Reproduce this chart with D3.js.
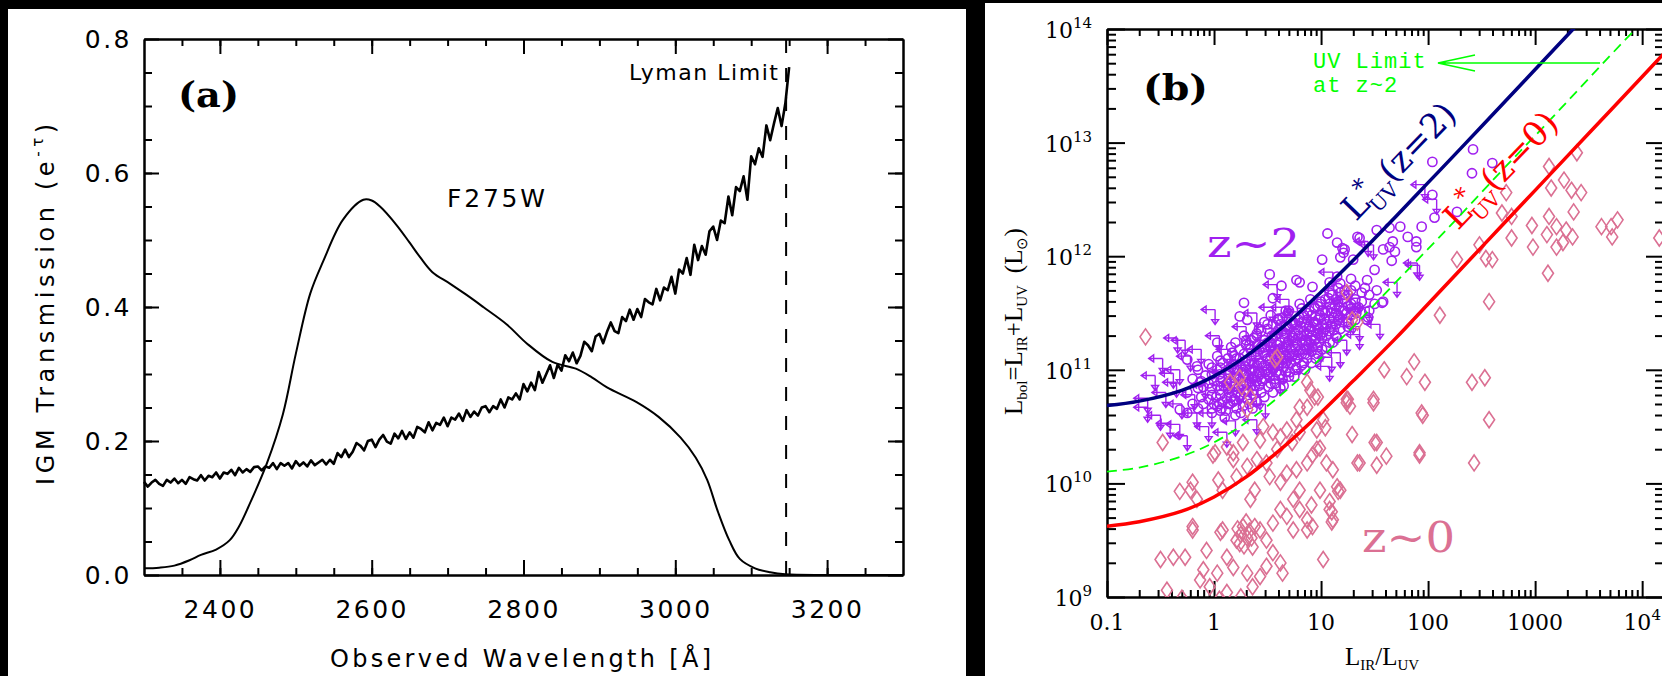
<!DOCTYPE html>
<html>
<head>
<meta charset="utf-8">
<script src="https://cdn.jsdelivr.net/npm/d3@7"></script>
<style>
html, body { margin: 0; padding: 0; background: #000; }
svg { display: block; }
</style>
</head>
<body>
<svg id="chart" width="1662" height="676"></svg>
<script>
// ---------- panel (a): IGM transmission vs F275W ----------
const filterWave = [2300, 2320, 2340, 2360, 2375, 2395, 2413, 2425, 2440, 2462, 2483, 2500, 2519, 2536, 2562, 2589, 2600, 2611, 2633, 2650, 2664, 2680, 2703, 2725, 2747, 2778, 2804, 2838, 2869, 2890, 2910, 2949, 2978, 3007, 3027, 3042, 3056, 3071, 3085, 3105, 3125, 3145, 3200, 3300];
const filterThru = [0.010, 0.011, 0.014, 0.022, 0.030, 0.038, 0.052, 0.072, 0.108, 0.167, 0.240, 0.330, 0.420, 0.468, 0.530, 0.560, 0.559, 0.550, 0.522, 0.496, 0.474, 0.452, 0.435, 0.418, 0.400, 0.374, 0.346, 0.318, 0.308, 0.295, 0.280, 0.258, 0.236, 0.205, 0.175, 0.142, 0.095, 0.052, 0.024, 0.010, 0.004, 0.001, 0.000, 0.000];

// mean IGM transmission, sampled every 5 A from 2300 A
const igmStart = 2300, igmStep = 5;
const igmTrans = [
  0.139, 0.132, 0.138, 0.142, 0.136, 0.133, 0.142, 0.138, 0.144, 0.137,
  0.142, 0.136, 0.146, 0.143, 0.141, 0.149, 0.141, 0.148, 0.146, 0.153,
  0.144, 0.153, 0.151, 0.157, 0.149, 0.160, 0.153, 0.158, 0.154, 0.161,
  0.162, 0.156, 0.162, 0.160, 0.167, 0.158, 0.167, 0.163, 0.167, 0.159,
  0.170, 0.163, 0.168, 0.162, 0.171, 0.164, 0.168, 0.172, 0.165, 0.172,
  0.166, 0.182, 0.176, 0.187, 0.176, 0.184, 0.197, 0.193, 0.186, 0.200,
  0.202, 0.191, 0.202, 0.209, 0.199, 0.196, 0.211, 0.204, 0.215, 0.203,
  0.213, 0.205, 0.221, 0.218, 0.213, 0.228, 0.216, 0.227, 0.224, 0.235,
  0.222, 0.235, 0.232, 0.241, 0.230, 0.246, 0.236, 0.244, 0.238, 0.250,
  0.252, 0.243, 0.252, 0.248, 0.262, 0.250, 0.265, 0.262, 0.271, 0.262,
  0.285, 0.274, 0.287, 0.276, 0.303, 0.287, 0.300, 0.313, 0.294, 0.314,
  0.305, 0.328, 0.319, 0.332, 0.316, 0.327, 0.348, 0.343, 0.334, 0.356,
  0.360, 0.346, 0.363, 0.377, 0.364, 0.361, 0.385, 0.379, 0.396, 0.381,
  0.397, 0.385, 0.412, 0.407, 0.404, 0.427, 0.410, 0.429, 0.425, 0.445,
  0.420, 0.456, 0.450, 0.473, 0.448, 0.493, 0.470, 0.491, 0.478, 0.513,
  0.520, 0.500, 0.529, 0.525, 0.565, 0.537, 0.579, 0.573, 0.595, 0.560,
  0.625, 0.613, 0.637, 0.624, 0.671, 0.649, 0.674, 0.697, 0.670, 0.704,
  0.758
];
const lymanLimit = 3146;
const waveTicks = [2400, 2600, 2800, 3000, 3200];
const transTicks = [0.0, 0.2, 0.4, 0.6, 0.8];

// ---------- panel (b): Lbol vs IR/UV ----------
const modelRatio = [0.1, 0.2, 0.5, 1, 2, 5, 10, 20, 50, 100, 200, 500, 1000, 2000, 5000, 10000, 16000];
const lstarZ2 = [4.84e10, 5.3e10, 6.6e10, 8.8e10, 1.32e11, 2.64e11, 4.84e11, 9.2e11, 2.24e12, 4.44e12, 8.8e12, 2.2e13, 4.4e13, 8.8e13, 2.2e14, 4.4e14, 7.0e14];
const lstarZ0 = [4.2e9, 4.6e9, 5.7e9, 7.6e9, 1.14e10, 2.3e10, 4.2e10, 8.0e10, 1.9e11, 3.8e11, 7.6e11, 1.9e12, 3.8e12, 7.6e12, 1.9e13, 3.8e13, 6.1e13];
const uvLimitZ2 = [1.27e10, 1.38e10, 1.73e10, 2.3e10, 3.45e10, 6.9e10, 1.27e11, 2.4e11, 5.9e11, 1.16e12, 2.3e12, 5.8e12, 1.15e13, 2.3e13, 5.8e13, 1.15e14, 1.84e14];

// z~2 galaxies, [log10(LIR/LUV), log10(Lbol)]
const z2Detect = [
  [1.06,12.20],[1.15,12.12],[1.22,12.06],[1.18,11.99],[1.01,11.97],[1.30,11.97],[1.34,12.17],[1.52,12.23],[1.64,12.25],[1.74,12.26],
  [1.81,12.17],[1.89,12.13],[1.94,12.26],[1.67,12.13],[1.58,12.06],[1.69,12.04],[1.66,11.96],[0.52,11.84],[0.63,11.74],[0.77,11.79],
  [0.80,11.77],[0.55,11.63],[0.28,11.59],[0.92,11.73],[1.08,11.77],[1.15,11.82],[1.43,11.79],[1.52,11.70],[1.41,11.72],[1.57,11.59],
  [1.43,11.44],[1.33,11.50],[1.22,11.66],[0.24,11.47],[0.31,11.44],[0.03,11.24],[-0.25,11.09],[-0.16,11.03],[-0.32,10.65],[-0.13,10.89],
  [2.42,12.94],[2.04,12.83],[2.41,12.73],[2.60,12.82],[2.04,12.54],[2.06,12.34],[2.27,12.39],[1.36,12.16],[1.89,12.08],[1.64,12.08],
  [1.21,12.03],[1.20,12.07],[1.58,11.60],[1.44,11.46],[1.11,11.24],
  [-0.10,10.70],[-0.10,10.85],[-0.08,10.95],[-0.02,10.62],[-0.02,10.78],[0.00,10.90],[-0.02,11.02],
  [0.05,10.70],[0.05,10.82],[0.07,10.66],[0.05,10.96],[0.06,11.08],
  [0.12,10.75],[0.12,10.88],[0.13,11.00],[0.14,10.80],[0.11,10.64],
  [0.18,10.72],[0.18,10.85],[0.19,10.93],[0.18,11.05],[0.20,10.60],[0.17,11.15],
  [0.25,10.78],[0.25,10.90],[0.26,10.98],[0.24,11.10],[0.27,10.68],[0.23,10.84],
  [0.32,10.82],[0.32,10.95],[0.33,11.05],[0.31,10.74],[0.34,11.18],[0.30,10.88],
  [0.38,10.86],[0.38,10.99],[0.39,11.12],[0.37,10.78],[0.40,11.22],[0.36,10.66],
  [0.45,10.90],[0.45,11.02],[0.46,11.15],[0.44,10.80],[0.47,11.26],[0.43,10.96],
  [0.52,10.94],[0.52,11.08],[0.53,11.20],[0.51,10.85],[0.54,11.30],[0.50,11.00],
  [0.58,10.98],[0.58,11.10],[0.59,11.22],[0.57,10.88],[0.60,11.35],[0.56,11.04],
  [0.65,11.02],[0.65,11.15],[0.66,11.28],[0.64,10.92],[0.67,11.38],[0.63,11.10],
  [0.72,11.06],[0.72,11.18],[0.73,11.30],[0.71,10.98],[0.74,11.42],
  [0.78,11.10],[0.78,11.22],[0.79,11.35],[0.77,11.02],[0.80,11.46],
  [0.85,11.14],[0.85,11.26],[0.86,11.38],[0.87,11.50],[0.84,11.06],
  [0.92,11.20],[0.92,11.30],[0.93,11.42],[0.94,11.55],
  [0.98,11.24],[0.98,11.36],[0.99,11.48],[1.00,11.60],
  [1.05,11.30],[1.05,11.40],[1.06,11.52],[1.07,11.63],
  [1.12,11.35],[1.12,11.46],[1.13,11.56],[1.20,11.42],[1.20,11.52],[1.21,11.62],
  [1.28,11.48],[1.28,11.58],[1.35,11.55],
  [0.02,10.76],[0.09,10.86],[0.15,10.70],[0.15,10.97],[0.21,10.80],[0.22,11.00],[0.28,10.86],[0.29,11.03],[0.35,10.92],[0.35,11.08],
  [0.41,10.94],[0.42,11.06],[0.48,10.98],[0.49,11.12],[0.55,11.02],[0.55,11.16],[0.61,11.06],[0.62,11.18],[0.68,11.08],[0.69,11.22],
  [0.75,11.14],[0.76,11.26],[0.81,11.18],[0.82,11.30],[0.88,11.22],[0.89,11.34],[0.95,11.27],[0.96,11.40],[1.02,11.33],[1.03,11.45],
  [1.09,11.38],[1.10,11.50],[1.16,11.44],[1.17,11.55],[1.24,11.50],[1.31,11.52],
  [0.60,11.45],[0.70,11.52],[0.50,11.40],[0.40,11.32],[0.30,11.26],[0.20,11.24],[0.90,11.62],[0.80,11.58],
  [0.00,10.70],[0.10,10.58],[0.25,10.62],[0.40,10.72],[0.55,10.80],[0.65,10.86],[0.75,10.94],[0.85,11.00],[0.95,11.10],[1.05,11.20],
  [1.15,11.28],[1.25,11.38],
  [-0.25,10.62],[-0.25,10.80],[-0.20,10.70],[-0.20,10.92],[-0.15,10.66],[-0.15,10.84],[-0.15,11.00],[-0.05,10.74],[-0.05,10.88],[-0.05,11.05],
  [0.03,10.68],[0.03,10.86],[0.03,11.00],[0.03,11.12],[0.08,10.72],[0.08,10.92],[0.08,11.06],[0.16,10.76],[0.16,10.90],[0.16,11.02],
  [0.16,11.20],[0.21,10.66],[0.21,10.94],[0.21,11.10],[0.28,10.80],[0.28,10.96],[0.28,11.14],[0.28,11.30],[0.33,10.70],[0.33,10.90],
  [0.33,11.00],[0.33,11.22],[0.37,10.82],[0.37,10.94],[0.37,11.06],[0.37,11.28],[0.42,10.86],[0.42,10.98],[0.42,11.18],[0.42,11.36],
  [0.47,10.76],[0.47,10.92],[0.47,11.04],[0.47,11.20],[0.47,11.42],[0.53,10.88],[0.53,10.98],[0.53,11.12],[0.53,11.24],[0.53,11.48],
  [0.57,10.92],[0.57,11.06],[0.57,11.18],[0.57,11.30],[0.62,10.84],[0.62,10.96],[0.62,11.12],[0.62,11.24],[0.62,11.40],[0.67,10.98],
  [0.67,11.06],[0.67,11.20],[0.67,11.32],[0.67,11.52],[0.70,10.94],[0.70,11.12],[0.70,11.26],[0.70,11.36],[0.76,11.00],[0.76,11.08],
  [0.76,11.20],[0.76,11.32],[0.76,11.40],[0.82,11.04],[0.82,11.14],[0.82,11.24],[0.82,11.42],[0.82,11.54],[0.87,11.10],[0.87,11.18],
  [0.87,11.32],[0.87,11.44],[0.91,11.06],[0.91,11.16],[0.91,11.26],[0.91,11.36],[0.91,11.48],[0.97,11.14],[0.97,11.20],[0.97,11.32],
  [0.97,11.44],[0.97,11.56],[1.01,11.18],[1.01,11.28],[1.01,11.40],[1.01,11.52],[1.08,11.24],[1.08,11.34],[1.08,11.44],[1.08,11.58],
  [1.08,11.68],[1.14,11.30],[1.14,11.40],[1.14,11.50],[1.14,11.62],[1.18,11.36],[1.18,11.46],[1.18,11.68],[1.18,11.76],[1.25,11.42],
  [1.25,11.56],[1.25,11.66],[1.32,11.44],[1.32,11.62],[1.32,11.74],[1.38,11.50],[1.38,11.60],[1.38,11.68],[1.45,11.52],[1.45,11.66],
  [1.50,11.58],[1.50,11.88],
  [-0.12,10.76],[-0.12,10.90],[-0.02,10.66],[-0.02,10.84],[-0.02,10.96],[0.06,10.64],[0.06,10.78],[0.06,10.90],[0.06,11.02],[0.13,10.70],
  [0.13,10.84],[0.13,10.96],[0.13,11.10],[0.19,10.74],[0.19,10.88],[0.19,11.00],[0.19,11.12],[0.24,10.76],[0.24,10.92],[0.24,11.04],
  [0.24,11.18],[0.30,10.82],[0.30,10.96],[0.30,11.08],[0.30,11.22],[0.35,10.86],[0.35,11.00],[0.35,11.12],[0.35,11.26],[0.40,10.90],
  [0.40,11.04],[0.40,11.16],[0.40,11.30],[0.44,10.92],[0.44,11.06],[0.44,11.20],[0.44,11.34],[0.50,10.96],[0.50,11.10],[0.50,11.24],
  [0.50,11.36],[0.55,11.00],[0.55,11.14],[0.55,11.28],[0.55,11.40],[0.60,11.04],[0.60,11.18],[0.60,11.32],[0.60,11.44],[0.64,11.06],
  [0.64,11.20],[0.64,11.34],[0.64,11.46],[0.69,11.10],[0.69,11.24],[0.69,11.38],[0.69,11.50],[0.73,11.12],[0.73,11.28],[0.73,11.40],
  [0.79,11.16],[0.79,11.30],[0.79,11.44],[0.84,11.18],[0.84,11.34],[0.84,11.48],[0.89,11.24],[0.89,11.38],[0.89,11.52],[0.94,11.26],
  [0.94,11.42],[0.94,11.54],[0.99,11.30],[0.99,11.46],[0.99,11.58],[1.04,11.36],[1.04,11.50],[1.04,11.62],[1.10,11.40],[1.10,11.54],
  [1.10,11.66],[1.16,11.48],[1.16,11.60],[1.16,11.72],[1.22,11.52],[1.22,11.70],[1.28,11.54],[1.28,11.70],[1.28,11.80]
];
// z~2 upper limits (IR undetected)
const z2Limits = [
  [0.01,11.53],[0.59,11.75],[1.92,11.92],[1.71,11.77],[1.36,11.63],[1.11,11.86],[1.44,12.13],[0.66,11.55],[-0.62,10.75],[-0.27,11.26],
  [-0.32,11.00],[-0.35,10.89],[1.08,11.03],[1.36,11.38],[1.18,11.15],[-0.32,10.52],[-0.41,10.53],[-0.62,10.67],[-0.16,10.62],[-0.02,10.62],
  [0.40,10.56],[-0.34,11.28],[-0.38,10.97],[1.97,12.63],[2.08,12.50],[1.49,12.10],[1.90,11.94],[1.24,11.26],[1.36,11.31],[1.10,11.11],
  [0.15,11.18],[0.34,11.04],[0.52,11.26],[0.71,11.35],[0.80,11.09],[0.24,10.82],[0.43,10.78],[0.62,10.91],[0.90,11.26],[0.99,11.44],
  [-0.08,10.87],[0.10,10.98],[-0.18,10.78],[0.80,11.51],[1.27,11.62],
  [-0.55,10.95],[-0.48,11.10],[-0.45,10.80],[-0.30,10.70],[-0.22,11.12],[-0.12,11.18],[-0.50,10.60],[-0.25,10.42],[0.05,11.30],[0.20,10.55],
  [0.48,10.70],[0.30,11.38],[0.65,11.00],[0.85,11.38],[1.00,11.20],[1.15,11.70],[0.55,11.55],[0.70,11.62],[-0.05,10.50],[0.12,10.45],
  [1.30,11.45],[1.45,11.55],[1.55,11.40],[0.40,11.50]
];
// z~0 galaxies
const z0Local = [
  [3.39,12.91],[3.13,12.79],[3.27,12.67],[3.34,12.58],[3.43,12.56],[3.15,12.60],[2.73,12.56],[2.69,12.38],[2.78,12.35],[3.36,12.39],
  [2.97,12.27],[3.13,12.35],[3.20,12.26],[3.29,12.23],[3.35,12.17],[3.11,12.19],[2.78,12.16],[2.98,12.08],[3.20,12.08],[3.26,12.12],
  [3.62,12.26],[3.71,12.26],[3.77,12.32],[3.72,12.17],[4.16,12.16],[2.48,12.10],[2.54,11.98],[2.27,11.97],[2.60,11.97],[3.12,11.85],
  [2.57,11.60],[2.11,11.48],[1.24,11.68],[1.29,11.44],
  [1.87,11.07],[1.59,11.00],[1.80,10.94],[1.97,10.89],[2.41,10.89],[2.53,10.93],[1.49,10.74],[1.25,10.74],[1.27,10.68],[1.95,10.60],
  [2.57,10.56],[1.04,10.49],[1.29,10.43],[1.52,10.36],[1.61,10.24],[1.34,10.18],[1.52,10.16],[1.92,10.25],[2.43,10.18],[1.11,10.12],
  [1.16,9.93],[0.99,9.94],[1.08,9.84],[1.10,9.75],[1.10,9.66],[0.87,9.59],[1.02,9.33],[0.91,9.81],[0.87,10.18],[0.99,10.31],
  [0.92,10.25],[0.97,10.76],[0.87,10.67],
  [-0.48,10.36],[-0.01,10.25],[-0.32,9.93],[-0.22,9.94],[-0.16,9.86],[0.08,9.94],[0.04,10.03],[-0.20,9.62],[0.06,9.57],[-0.38,9.35],
  [-0.27,9.35],[-0.07,9.41],[-0.10,9.24],[-0.13,9.15],[0.03,9.21],[-0.04,9.09],[-0.44,9.06],[0.12,9.35],[0.18,9.26],[0.24,9.47],
  [0.31,9.52],[0.21,9.50],[0.36,9.44],[0.27,9.62],[0.38,9.62],[0.43,9.59],[0.34,9.86],[0.38,9.94],[0.21,10.06],[0.31,10.15],
  [0.40,10.21],[0.49,10.18],[0.18,10.21],[0.12,10.32],[0.27,10.36],[0.43,10.38],[0.62,10.41],[0.59,10.30],[0.68,10.47],[0.77,10.56],
  [0.80,10.45],[0.73,10.36],[0.52,10.06],[0.62,10.01],[0.68,10.09],[0.77,10.12],[0.96,10.30],[1.05,10.18],[1.15,9.97],[1.18,9.94],
  [0.80,9.94],[0.74,9.86],[0.62,9.77],[0.68,9.71],[0.80,9.77],[0.87,9.68],[0.92,9.62],[1.08,9.77],[1.11,9.68],[0.55,9.65],
  [0.49,9.50],[0.55,9.39],[0.49,9.27],[0.62,9.30],[0.64,9.21],[0.43,9.18],[0.31,9.21],[0.36,9.09],[0.12,9.04],[0.74,9.59],
  [0.55,10.45],[0.46,10.50],[0.01,10.27],[0.96,10.47],[1.02,10.56],[1.24,10.71],[1.50,10.36],[1.36,10.18],[1.94,10.62],[1.92,10.27],
  [1.49,10.71],[0.31,10.65],
  [-0.64,11.29],[-0.20,10.01],[-0.20,9.59],[0.08,9.59],[-0.50,9.33],[0.18,10.27],[0.24,10.93],[0.34,10.76],[0.57,11.09],[0.15,10.89],
  [0.59,11.11],[0.26,10.85],[1.34,11.42],[0.87,10.89],[0.94,10.76],[0.90,10.82],[1.24,10.74],[0.80,10.67],
  [0.05,8.98],[0.25,9.00],[-0.30,8.99],[0.25,9.55],[0.33,9.58],[0.28,9.45],[0.35,9.52],[0.22,9.60],[0.30,9.66]
];
const ratioTicks = [0.1, 1, 10, 100, 1000, 10000];
const ratioLabels = ['0.1', '1', '10', '100', '1000', '10|4'];
const lbolTicks = [1e9, 1e10, 1e11, 1e12, 1e13, 1e14];
const lbolExps = ['9', '10', '11', '12', '13', '14'];

const purple = '#a020f0', pink = '#db7093', navy = '#000080', red = '#ff0000', green = '#00ff00';

const svg = d3.select('#chart');
svg.append('rect').attr('width', 1662).attr('height', 676).attr('fill', '#000');
svg.append('rect').attr('x', 8).attr('y', 9).attr('width', 958).attr('height', 667).attr('fill', '#fff');
svg.append('rect').attr('x', 985).attr('y', 3).attr('width', 677).attr('height', 673).attr('fill', '#fff');

function styleAxis(sel, w) {
    sel.select('.domain').attr('stroke-width', w);
    sel.selectAll('.tick line').attr('stroke-width', w);
}

// ================= panel (a) =================
const xA = d3.scaleLinear().domain([2300, 3300]).range([144, 903]);
const yA = d3.scaleLinear().domain([0, 0.8]).range([575, 39]);
const gA = svg.append('g');
const waveMinor = d3.range(2350, 3300, 50);
const transMinor = d3.range(0.05, 0.8, 0.05);

gA.append('g').attr('transform', 'translate(0,575)')
    .call(d3.axisBottom(xA).tickValues(waveMinor).tickSize(-7).tickSizeOuter(0).tickFormat(''))
    .call(styleAxis, 2);
gA.append('g').attr('transform', 'translate(0,575)')
    .call(d3.axisBottom(xA).tickValues(waveTicks).tickSize(-15).tickSizeOuter(0).tickPadding(25).tickFormat(d3.format('d')))
    .call(styleAxis, 2)
    .attr('font-family', 'DejaVu Sans').attr('font-size', 25)
    .call(g => g.selectAll('.tick text').attr('letter-spacing', 2.5));
gA.append('g').attr('transform', 'translate(0,39)')
    .call(d3.axisTop(xA).tickValues(waveMinor).tickSize(-7).tickSizeOuter(0).tickFormat(''))
    .call(styleAxis, 2);
gA.append('g').attr('transform', 'translate(0,39)')
    .call(d3.axisTop(xA).tickValues(waveTicks).tickSize(-15).tickSizeOuter(0).tickFormat(''))
    .call(styleAxis, 2);
gA.append('g').attr('transform', 'translate(144,0)')
    .call(d3.axisLeft(yA).tickValues(transMinor).tickSize(-8).tickSizeOuter(0).tickFormat(''))
    .call(styleAxis, 2);
gA.append('g').attr('transform', 'translate(144,0)')
    .call(d3.axisLeft(yA).tickValues(transTicks).tickSize(-15).tickSizeOuter(0).tickPadding(12).tickFormat(d3.format('.1f')))
    .call(styleAxis, 2)
    .attr('font-family', 'DejaVu Sans').attr('font-size', 25)
    .call(g => g.selectAll('.tick text').attr('letter-spacing', 2.5));
gA.append('g').attr('transform', 'translate(903,0)')
    .call(d3.axisRight(yA).tickValues(transMinor).tickSize(-8).tickSizeOuter(0).tickFormat(''))
    .call(styleAxis, 2);
gA.append('g').attr('transform', 'translate(903,0)')
    .call(d3.axisRight(yA).tickValues(transTicks).tickSize(-15).tickSizeOuter(0).tickFormat(''))
    .call(styleAxis, 2);

// Lyman limit
gA.append('line')
    .attr('x1', xA(lymanLimit)).attr('x2', xA(lymanLimit))
    .attr('y1', yA(0.8)).attr('y2', yA(0))
    .attr('stroke', '#000').attr('stroke-width', 2).attr('stroke-dasharray', '14,15');

// filter curve
gA.append('path')
    .datum(filterWave.map((w, i) => [w, filterThru[i]]))
    .attr('fill', 'none').attr('stroke', '#000').attr('stroke-width', 2)
    .attr('d', d3.line().x(d => xA(d[0])).y(d => yA(d[1])).curve(d3.curveCatmullRom.alpha(0.5)));

// transmission curve
gA.append('path')
    .datum(igmTrans)
    .attr('fill', 'none').attr('stroke', '#000').attr('stroke-width', 2.6).attr('stroke-linejoin', 'round')
    .attr('d', d3.line().x((d, i) => xA(igmStart + i * igmStep)).y(d => yA(d)));

gA.append('text').attr('x', 178).attr('y', 107)
    .attr('font-family', 'DejaVu Serif').attr('font-weight', 'bold').attr('font-size', 36)
    .attr('textLength', 61).attr('lengthAdjust', 'spacingAndGlyphs').text('(a)');
gA.append('text').attr('x', 447).attr('y', 207)
    .attr('font-family', 'DejaVu Sans').attr('font-size', 25)
    .attr('textLength', 98).text('F275W');
gA.append('text').attr('x', 629).attr('y', 80)
    .attr('font-family', 'DejaVu Sans').attr('font-size', 22)
    .attr('textLength', 149).text('Lyman Limit');
gA.append('text').attr('x', 330).attr('y', 667)
    .attr('font-family', 'DejaVu Sans').attr('font-size', 24)
    .attr('textLength', 381).text('Observed Wavelength [Å]');
const yTitleA = gA.append('text').attr('transform', 'translate(54,485) rotate(-90)')
    .attr('font-family', 'DejaVu Sans').attr('font-size', 24).attr('letter-spacing', 4.6);
yTitleA.append('tspan').text('IGM Transmission (e');
yTitleA.append('tspan').attr('font-size', 15).attr('dy', -11).text('-τ');
yTitleA.append('tspan').attr('dy', 11).text(')');

// ================= panel (b) =================
const xB = d3.scaleLog().domain([0.1, 16000]).range([1107, 1664]);
const yB = d3.scaleLog().domain([1e9, 1e14]).range([597, 29]);
const gB = svg.append('g');

const ratioMinor = [];
ratioTicks.forEach(d => { for (let k = 2; k <= 9; k++) if (d * k < 16000) ratioMinor.push(d * k); });
const lbolMinor = [];
lbolTicks.slice(0, -1).forEach(d => { for (let k = 2; k <= 9; k++) lbolMinor.push(d * k); });

gB.append('defs').append('clipPath').attr('id', 'clipB')
    .append('rect').attr('x', 1107).attr('y', 29).attr('width', 557).attr('height', 568);

[[d3.axisBottom, 597, ratioMinor, 7], [d3.axisBottom, 597, ratioTicks, 16],
 [d3.axisTop, 29, ratioMinor, 7], [d3.axisTop, 29, ratioTicks, 16]].forEach(([ax, y, vals, len]) => {
    gB.append('g').attr('transform', `translate(0,${y})`)
        .call(ax(xB).tickValues(vals).tickSize(-len).tickSizeOuter(0).tickFormat(''))
        .call(styleAxis, 2);
});
[[d3.axisLeft, 1107, lbolMinor, 9], [d3.axisLeft, 1107, lbolTicks, 18],
 [d3.axisRight, 1664, lbolMinor, 9], [d3.axisRight, 1664, lbolTicks, 18]].forEach(([ax, x, vals, len]) => {
    gB.append('g').attr('transform', `translate(${x},0)`)
        .call(ax(yB).tickValues(vals).tickSize(-len).tickSizeOuter(0).tickFormat(''))
        .call(styleAxis, 2);
});

// tick labels
ratioTicks.forEach((v, i) => {
    const parts = ratioLabels[i].split('|');
    const t = gB.append('text').attr('x', xB(v)).attr('y', 630)
        .attr('font-family', 'DejaVu Serif').attr('font-size', 22).attr('text-anchor', 'middle');
    t.append('tspan').text(parts[0]);
    if (parts[1]) t.append('tspan').attr('font-size', 15).attr('dy', -10).text(parts[1]);
});
lbolTicks.forEach((v, i) => {
    const t = gB.append('text').attr('x', 1092).attr('y', yB(v) + 9)
        .attr('font-family', 'DejaVu Serif').attr('font-size', 22).attr('text-anchor', 'end');
    t.append('tspan').text('10');
    t.append('tspan').attr('font-size', 15).attr('dy', -10).text(lbolExps[i]);
});

const plotB = gB.append('g').attr('clip-path', 'url(#clipB)');

// z~2 detections
plotB.append('g').selectAll('circle').data(z2Detect).join('circle')
    .attr('cx', d => xB(10 ** d[0])).attr('cy', d => yB(10 ** d[1])).attr('r', 4.6)
    .attr('fill', 'none').attr('stroke', purple).attr('stroke-width', 1.6);

// z~2 upper limits
plotB.append('g').selectAll('path').data(z2Limits).join('path')
    .attr('d', d => {
        const cx = xB(10 ** d[0]), cy = yB(10 ** d[1]);
        return `M${cx},${cy}H${cx - 14}M${cx - 9},${cy - 3.5}L${cx - 14},${cy}L${cx - 9},${cy + 3.5}Z` +
            `M${cx},${cy}V${cy + 15}M${cx - 3.5},${cy + 10}L${cx},${cy + 15}L${cx + 3.5},${cy + 10}Z`;
    })
    .attr('fill', 'none').attr('stroke', purple).attr('stroke-width', 1.4);

// z~0 galaxies
plotB.append('g').selectAll('path').data(z0Local).join('path')
    .attr('transform', d => `translate(${xB(10 ** d[0])},${yB(10 ** d[1])})`)
    .attr('d', 'M0,-8L5.5,0L0,8L-5.5,0Z')
    .attr('fill', 'none').attr('stroke', pink).attr('stroke-width', 1.6);

// model lines
const modelLine = vals => d3.line().x((d, i) => xB(modelRatio[i])).y(d => yB(d)).curve(d3.curveCatmullRom.alpha(0.5))(vals);
plotB.append('path').attr('d', modelLine(uvLimitZ2))
    .attr('fill', 'none').attr('stroke', green).attr('stroke-width', 1.8).attr('stroke-dasharray', '10,6');
plotB.append('path').attr('d', modelLine(lstarZ2))
    .attr('fill', 'none').attr('stroke', navy).attr('stroke-width', 3.5);
plotB.append('path').attr('d', modelLine(lstarZ0))
    .attr('fill', 'none').attr('stroke', red).attr('stroke-width', 3.5);

function lineLabel(x, y, color, zText) {
    const t = gB.append('text').attr('transform', `translate(${x},${y}) rotate(-46)`)
        .attr('fill', color).attr('font-family', 'DejaVu Serif').attr('font-size', 34);
    t.append('tspan').text('L');
    t.append('tspan').attr('font-size', 24).attr('dy', -13).text('*');
    t.append('tspan').attr('font-size', 20).attr('dx', -13).attr('dy', 23).text('UV');
    t.append('tspan').attr('dy', -10).text('(' + zText + ')');
}
lineLabel(1356, 222, navy, 'z=2');
lineLabel(1458, 231, red, 'z=0');

// UV limit annotation
gB.append('text').attr('x', 1313).attr('y', 68).attr('fill', green)
    .attr('font-family', 'Liberation Mono').attr('font-size', 22).attr('letter-spacing', 1).text('UV Limit');
gB.append('text').attr('x', 1313).attr('y', 92).attr('fill', green)
    .attr('font-family', 'Liberation Mono').attr('font-size', 22).attr('letter-spacing', 1).text('at z~2');
gB.append('path').attr('d', 'M1600,63H1438M1475,55L1438,63L1475,71')
    .attr('fill', 'none').attr('stroke', green).attr('stroke-width', 1.6);

gB.append('text').attr('x', 1143).attr('y', 100)
    .attr('font-family', 'DejaVu Serif').attr('font-weight', 'bold').attr('font-size', 36)
    .attr('textLength', 65).attr('lengthAdjust', 'spacingAndGlyphs').text('(b)');
gB.append('text').attr('x', 1207).attr('y', 257).attr('fill', purple)
    .attr('font-family', 'DejaVu Serif').attr('font-size', 40)
    .attr('textLength', 93).attr('lengthAdjust', 'spacingAndGlyphs').text('z~2');
gB.append('text').attr('x', 1362).attr('y', 552).attr('fill', pink)
    .attr('font-family', 'DejaVu Serif').attr('font-size', 42)
    .attr('textLength', 93).attr('lengthAdjust', 'spacingAndGlyphs').text('z~0');

// axis titles
const xTitleB = gB.append('text').attr('x', 1345).attr('y', 665)
    .attr('font-family', 'Liberation Serif').attr('font-size', 25);
xTitleB.append('tspan').text('L');
xTitleB.append('tspan').attr('font-size', 15).attr('dy', 5).text('IR');
xTitleB.append('tspan').attr('dy', -5).text('/L');
xTitleB.append('tspan').attr('font-size', 15).attr('dy', 5).text('UV');

const yTitleB = gB.append('text').attr('transform', 'translate(1022,415) rotate(-90)')
    .attr('font-family', 'Liberation Serif').attr('font-size', 25);
yTitleB.append('tspan').text('L');
yTitleB.append('tspan').attr('font-size', 15).attr('dy', 5).text('bol');
yTitleB.append('tspan').attr('dy', -5).text('=L');
yTitleB.append('tspan').attr('font-size', 15).attr('dy', 5).text('IR');
yTitleB.append('tspan').attr('dy', -5).text('+L');
yTitleB.append('tspan').attr('font-size', 15).attr('dy', 5).text('UV');
yTitleB.append('tspan').attr('dy', -5).attr('dx', 12).text('(L');
yTitleB.append('tspan').attr('font-size', 15).attr('dy', 5).text('⊙');
yTitleB.append('tspan').attr('dy', -5).text(')');
</script>
</body>
</html>
